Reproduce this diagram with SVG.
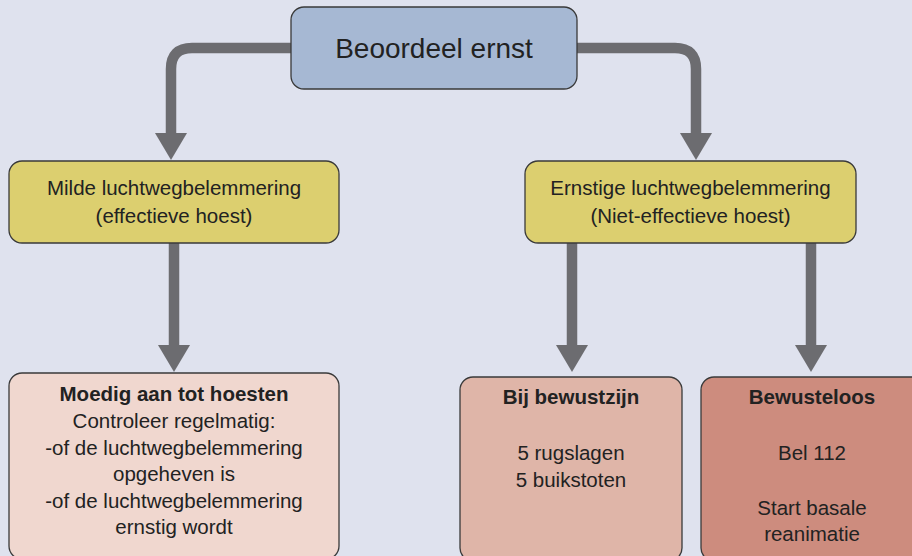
<svg xmlns="http://www.w3.org/2000/svg" width="912" height="556" viewBox="0 0 912 556">
<defs>
<style>
.bg{fill:#dfe2ee}
.box{stroke:#3a3a3a;stroke-width:1.3}
.conn{fill:none;stroke:#6c6c70;stroke-width:10.5}
text{font-family:"Liberation Sans",Arial,sans-serif;fill:#222;text-anchor:middle;font-size:20.5px}
.title{font-size:28px}
.b{font-weight:bold}
</style>
<marker id="ah" markerUnits="userSpaceOnUse" markerWidth="27" markerHeight="32" viewBox="0 0 27 32" refX="0" refY="16" orient="auto">
<path d="M0,0 L27,16 L0,32 Z" fill="#6c6c70"/>
</marker>
</defs>
<rect class="bg" x="0" y="0" width="912" height="556"/>
<g id="connectors">
<path class="conn" d="M291 48 H192 Q171 48 171 69 V133" marker-end="url(#ah)"/>
<path class="conn" d="M577 48 H675 Q696 48 696 69 V133" marker-end="url(#ah)"/>
<path class="conn" d="M174 243 V345" marker-end="url(#ah)"/>
<path class="conn" d="M572 243 V345" marker-end="url(#ah)"/>
<path class="conn" d="M811 243 V345" marker-end="url(#ah)"/>
</g>
<g id="node-beoordeel">
<rect class="box" x="291" y="7" width="286" height="82" rx="13" fill="#a6b8d3"/>
<text class="title" x="434" y="58">Beoordeel ernst</text>
</g>
<g id="node-milde">
<rect class="box" x="9" y="161" width="330" height="82" rx="13" fill="#dccf6f"/>
<text x="174" y="195">Milde luchtwegbelemmering</text>
<text x="174" y="223">(effectieve hoest)</text>
</g>
<g id="node-ernstige">
<rect class="box" x="525" y="161" width="331" height="82" rx="13" fill="#dccf6f"/>
<text x="690.5" y="195">Ernstige luchtwegbelemmering</text>
<text x="690.5" y="223">(Niet-effectieve hoest)</text>
</g>
<g id="node-moedig">
<rect class="box" x="9" y="373" width="330" height="186" rx="13" fill="#f0d7cf"/>
<text class="b" x="174" y="401">Moedig aan tot hoesten</text>
<text x="174" y="428">Controleer regelmatig:</text>
<text x="174" y="455">-of de luchtwegbelemmering</text>
<text x="174" y="481">opgeheven is</text>
<text x="174" y="508">-of de luchtwegbelemmering</text>
<text x="174" y="534">ernstig wordt</text>
</g>
<g id="node-bewust">
<rect class="box" x="460" y="377" width="222" height="184" rx="13" fill="#dfb5a8"/>
<text class="b" x="571" y="404">Bij bewustzijn</text>
<text x="571" y="460">5 rugslagen</text>
<text x="571" y="487">5 buikstoten</text>
</g>
<g id="node-bewusteloos">
<rect class="box" x="701" y="377" width="225" height="184" rx="13" fill="#cd8c7e"/>
<text class="b" x="812" y="404">Bewusteloos</text>
<text x="812" y="460">Bel 112</text>
<text x="812" y="515">Start basale</text>
<text x="812" y="541">reanimatie</text>
</g>
</svg>
